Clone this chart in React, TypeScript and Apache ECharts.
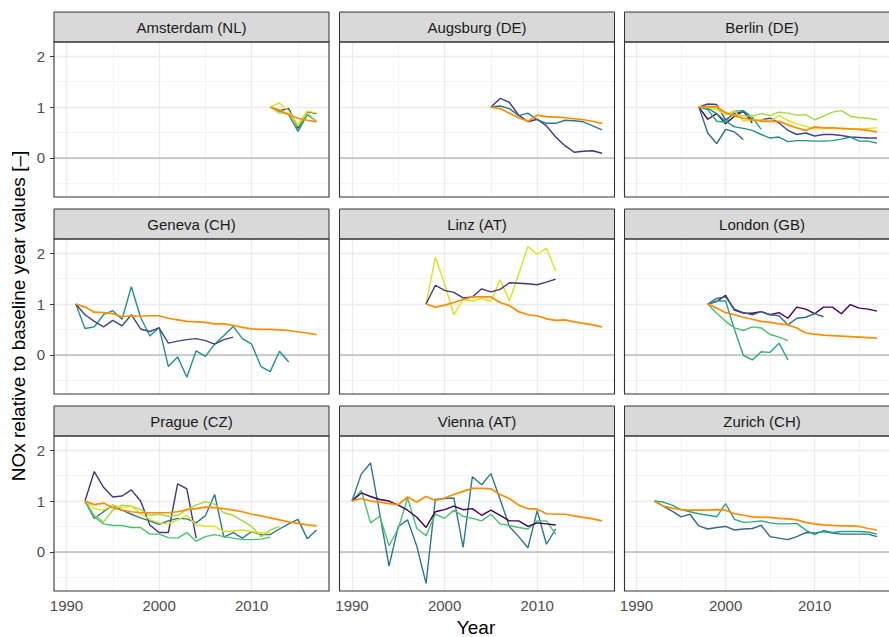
import React, { useEffect, useRef } from "react";
import * as echarts from "echarts";

// ---------- labels & ticks ----------
const cityNames = [
  "Amsterdam (NL)", "Augsburg (DE)", "Berlin (DE)",
  "Geneva (CH)", "Linz (AT)", "London (GB)",
  "Prague (CZ)", "Vienna (AT)", "Zurich (CH)",
];
const yTicks = [0, 1, 2];
const yMinorLines = [-0.5, 0.5, 1.5];
const xTicks = [1990, 2000, 2010];
const xMinorLines = [1995, 2005, 2015];
const yRange = [-0.77, 2.28];
const xRange = [1988.65, 2018.35];
const yTitle = "NOx relative to baseline year values [–]";
const xTitle = "Year";

// ---------- data (values relative to baseline year) ----------
// Amsterdam, from 2012
const amsIndigo = [1.0, 0.93, 0.97, 0.58, 0.91, 0.87];
const amsTeal = [1.0, 0.92, 0.85, 0.52, 0.85, 0.72];
const amsLime = [1.0, 0.88, 0.88, 0.62, 0.88, 0.72];
const amsYellow = [1.0, 1.08, 0.92, 0.66, 0.92, 0.88];
const amsOrange = [1.0, 0.94, 0.85, 0.78, 0.74, 0.71];
// Augsburg, from 2005
const augIndigo = [1.0, 1.17, 1.09, 0.84, 0.71, 0.76, 0.63, 0.41, 0.24, 0.11, 0.13, 0.14, 0.09];
const augTeal = [1.0, 1.02, 0.97, 0.83, 0.88, 0.75, 0.68, 0.68, 0.74, 0.73, 0.71, 0.63, 0.55];
const augOrange = [1.0, 0.97, 0.88, 0.79, 0.72, 0.84, 0.81, 0.8, 0.79, 0.77, 0.75, 0.72, 0.68];
// Berlin, from 1997
const berPurple = [1.0, 0.76, 0.87, 0.67, 0.82, 0.92, 0.69];
const berSlate = [1.0, 1.06, 1.05, 0.75, 0.87, 0.91, 0.75, 0.75, 0.78, 0.69, 0.54, 0.46, 0.49, 0.43, 0.46, 0.46, 0.44, 0.41, 0.4, 0.39, 0.39];
const berBlue = [1.0, 0.49, 0.28, 0.56, 0.51, 0.36];
const berTeal = [1.0, 0.98, 0.87, 0.72, 0.61, 0.58, 0.54, 0.46, 0.39, 0.41, 0.32, 0.34, 0.34, 0.33, 0.33, 0.34, 0.37, 0.41, 0.33, 0.33, 0.29];
const berSea = [1.0, 0.95, 0.72, 0.7, 0.92, 0.93, 0.8, 0.56];
const berLime = [1.0, 1.0, 0.98, 0.9, 0.85, 0.83, 0.82, 0.87, 0.83, 0.9, 0.88, 0.84, 0.85, 0.75, 0.82, 0.9, 0.93, 0.82, 0.79, 0.78, 0.75];
const berYellow = [1.0, 1.0, 0.95, 0.85, 0.93, 0.72, 0.75, 0.75, 0.72, 0.83, 0.74, 0.67, 0.62, 0.57, 0.57, 0.58, 0.57, 0.56, 0.57, 0.58, 0.59];
const berOrange = [1.0, 1.01, 1.01, 0.88, 0.83, 0.78, 0.75, 0.72, 0.72, 0.72, 0.65, 0.59, 0.54, 0.61, 0.59, 0.59, 0.58, 0.57, 0.56, 0.54, 0.51];
// Geneva, from 1991
const genTeal = [1.0, 0.52, 0.55, 0.79, 0.87, 0.7, 1.34, 0.74, 0.37, 0.54, -0.23, -0.04, -0.44, 0.08, -0.03, 0.21, 0.38, 0.56, 0.32, 0.21, -0.23, -0.33, 0.07, -0.14];
const genIndigo = [1.0, 0.79, 0.66, 0.55, 0.68, 0.57, 0.79, 0.51, 0.46, 0.53, 0.23, 0.27, 0.3, 0.32, 0.28, 0.21, 0.3, 0.35];
const genOrange = [1.0, 0.94, 0.84, 0.83, 0.81, 0.75, 0.77, 0.76, 0.77, 0.77, 0.72, 0.69, 0.66, 0.65, 0.64, 0.61, 0.61, 0.58, 0.54, 0.51, 0.5, 0.5, 0.49, 0.48, 0.45, 0.43, 0.4];
// Linz, from 1998
const linYellow = [1.0, 1.92, 1.4, 0.79, 1.09, 1.06, 1.11, 1.05, 1.48, 1.06, 1.59, 2.13, 1.98, 2.1, 1.65];
const linIndigo = [1.0, 1.37, 1.27, 1.23, 1.12, 1.14, 1.3, 1.24, 1.29, 1.42, 1.41, 1.4, 1.38, 1.43, 1.49];
const linOrange = [1.0, 0.94, 0.98, 1.03, 1.09, 1.14, 1.14, 1.14, 1.03, 0.97, 0.85, 0.79, 0.77, 0.71, 0.68, 0.69, 0.65, 0.62, 0.59, 0.55];
// London, from 1998
const lonPurple = [1.0, 1.05, 1.17, 0.88, 0.82, 0.82, 0.85, 0.79, 0.83, 0.72, 0.94, 0.9, 0.81, 0.94, 0.94, 0.81, 0.99, 0.92, 0.9, 0.86];
const lonBlue = [1.0, 1.11, 1.14, 0.9, 0.83, 0.79, 0.85, 0.79, 0.77, 0.59, 0.72, 0.74, 0.81, 0.75];
const lonSea = [1.0, 1.06, 1.06, 0.5, -0.01, -0.1, 0.06, 0.05, 0.23, -0.1];
const lonGreen = [1.0, 0.82, 0.66, 0.53, 0.48, 0.55, 0.53, 0.4, 0.35, 0.28];
const lonOrange = [1.0, 0.92, 0.83, 0.79, 0.74, 0.7, 0.66, 0.64, 0.61, 0.59, 0.53, 0.43, 0.41, 0.39, 0.38, 0.37, 0.36, 0.35, 0.34, 0.33];
// Prague, from 1992
const praIndigo = [1.0, 1.58, 1.27, 1.08, 1.1, 1.22, 1.0, 0.53, 0.38, 0.38, 1.34, 1.24, 0.27];
const praTeal = [1.0, 0.66, 0.79, 0.92, 0.82, 0.74, 0.67, 0.61, 0.54, 0.61, 0.66, 0.65, 0.57, 0.71, 1.13, 0.29, 0.38, 0.27, 0.4, 0.34, 0.34, 0.45, 0.55, 0.64, 0.26, 0.43];
const praLime = [1.0, 0.72, 0.59, 0.82, 0.92, 0.9, 0.83, 0.72, 0.74, 0.7, 0.72, 0.83, 0.92, 0.99, 0.94, 0.77, 0.72, 0.61, 0.5, 0.3, 0.43, 0.5];
const praYellow = [1.0, 0.85, 0.82, 0.92, 0.87, 0.9, 0.75, 0.64, 0.57, 0.55, 0.63, 0.72, 0.53, 0.51, 0.5, 0.4, 0.41, 0.43, 0.4, 0.37, 0.38];
const praGreen = [1.0, 0.69, 0.55, 0.52, 0.52, 0.48, 0.48, 0.35, 0.35, 0.28, 0.27, 0.38, 0.21, 0.3, 0.34, 0.3, 0.27, 0.24, 0.24, 0.25, 0.29];
const praOrange = [1.0, 0.93, 0.96, 0.87, 0.82, 0.79, 0.77, 0.77, 0.77, 0.77, 0.79, 0.83, 0.85, 0.88, 0.87, 0.85, 0.82, 0.79, 0.74, 0.71, 0.67, 0.63, 0.59, 0.56, 0.53, 0.51];
// Vienna, from 1990
const vieTeal = [1.0, 1.53, 1.75, 0.75, -0.28, 0.5, 0.63, 0.11, -0.62, 1.03, 1.05, 1.06, 0.09, 1.48, 1.32, 1.54, 1.03, 0.5, 0.3, 0.08, 0.81, 0.15, 0.45];
const vieGreen = [1.0, 1.21, 0.57, 0.7, 0.12, 0.46, 1.06, 0.46, 0.32, 0.74, 0.66, 0.82, 0.7, 0.66, 0.61, 0.74, 0.55, 0.52, 0.48, 0.45, 0.61, 0.61, 0.35];
const viePurple = [1.0, 1.16, 1.09, 1.03, 1.0, 0.92, 0.82, 0.68, 0.48, 0.79, 0.83, 0.9, 0.83, 0.85, 0.72, 0.82, 0.72, 0.61, 0.61, 0.5, 0.57, 0.55, 0.53];
const vieOrange = [1.0, 1.05, 1.0, 0.98, 0.95, 0.93, 1.08, 0.98, 1.09, 1.01, 1.06, 1.13, 1.19, 1.25, 1.25, 1.24, 1.13, 1.05, 0.92, 0.85, 0.84, 0.75, 0.74, 0.74, 0.71, 0.68, 0.65, 0.61];
// Zurich, from 1992
const zurBlue = [1.0, 0.9, 0.8, 0.69, 0.74, 0.51, 0.45, 0.48, 0.5, 0.43, 0.45, 0.46, 0.52, 0.3, 0.27, 0.24, 0.3, 0.38, 0.37, 0.4, 0.37, 0.35, 0.35, 0.35, 0.35, 0.3];
const zurGreen = [1.0, 0.98, 0.92, 0.83, 0.79, 0.75, 0.72, 0.69, 0.95, 0.64, 0.58, 0.59, 0.61, 0.57, 0.55, 0.55, 0.56, 0.43, 0.34, 0.42, 0.38, 0.4, 0.4, 0.4, 0.39, 0.35];
const zurOrange = [1.0, 0.9, 0.86, 0.83, 0.82, 0.82, 0.82, 0.83, 0.82, 0.75, 0.72, 0.69, 0.68, 0.68, 0.66, 0.65, 0.63, 0.58, 0.55, 0.53, 0.52, 0.51, 0.51, 0.5, 0.46, 0.43];

type LineDef = { panel: number; start: number; values: number[]; tone: string };
const lineDefs: LineDef[] = [
  { panel: 0, start: 2012, values: amsIndigo, tone: "indigo" },
  { panel: 0, start: 2012, values: amsTeal, tone: "teal" },
  { panel: 0, start: 2012, values: amsLime, tone: "lime" },
  { panel: 0, start: 2012, values: amsYellow, tone: "yellow" },
  { panel: 0, start: 2012, values: amsOrange, tone: "orange" },
  { panel: 1, start: 2005, values: augIndigo, tone: "indigo" },
  { panel: 1, start: 2005, values: augTeal, tone: "petrol" },
  { panel: 1, start: 2005, values: augOrange, tone: "orange" },
  { panel: 2, start: 1997, values: berPurple, tone: "purple" },
  { panel: 2, start: 1997, values: berSlate, tone: "slate" },
  { panel: 2, start: 1997, values: berBlue, tone: "blue" },
  { panel: 2, start: 1997, values: berTeal, tone: "teal" },
  { panel: 2, start: 1997, values: berSea, tone: "sea" },
  { panel: 2, start: 1997, values: berLime, tone: "lime" },
  { panel: 2, start: 1997, values: berYellow, tone: "yellow" },
  { panel: 2, start: 1997, values: berOrange, tone: "orange" },
  { panel: 3, start: 1991, values: genTeal, tone: "teal" },
  { panel: 3, start: 1991, values: genIndigo, tone: "slate" },
  { panel: 3, start: 1991, values: genOrange, tone: "orange" },
  { panel: 4, start: 1998, values: linYellow, tone: "yellow" },
  { panel: 4, start: 1998, values: linIndigo, tone: "indigo" },
  { panel: 4, start: 1998, values: linOrange, tone: "orange" },
  { panel: 5, start: 1998, values: lonPurple, tone: "purple" },
  { panel: 5, start: 1998, values: lonBlue, tone: "blue" },
  { panel: 5, start: 1998, values: lonSea, tone: "sea" },
  { panel: 5, start: 1998, values: lonGreen, tone: "green" },
  { panel: 5, start: 1998, values: lonOrange, tone: "orange" },
  { panel: 6, start: 1992, values: praIndigo, tone: "indigo" },
  { panel: 6, start: 1992, values: praTeal, tone: "petrol" },
  { panel: 6, start: 1992, values: praLime, tone: "lime" },
  { panel: 6, start: 1992, values: praYellow, tone: "yellow" },
  { panel: 6, start: 1992, values: praGreen, tone: "green" },
  { panel: 6, start: 1992, values: praOrange, tone: "orange" },
  { panel: 7, start: 1990, values: vieTeal, tone: "petrol" },
  { panel: 7, start: 1990, values: vieGreen, tone: "green" },
  { panel: 7, start: 1990, values: viePurple, tone: "purple" },
  { panel: 7, start: 1990, values: vieOrange, tone: "orange" },
  { panel: 8, start: 1992, values: zurBlue, tone: "blue" },
  { panel: 8, start: 1992, values: zurGreen, tone: "sea" },
  { panel: 8, start: 1992, values: zurOrange, tone: "orange" },
];

// ---------- styles & layout ----------
const toneColors: Record<string, string> = {
  purple: "#440154",
  indigo: "#46337E",
  slate: "#414487",
  blue: "#31688E",
  petrol: "#2A788E",
  teal: "#21908C",
  sea: "#22A884",
  green: "#4AC16D",
  lime: "#9FDA3A",
  yellow: "#DCE319",
  orange: "#FF8C00",
};
const FONT = "'Liberation Sans', Arial, Helvetica, sans-serif";
const COL_LEFT = [54, 339.5, 624.5];
const ROW_TOP = [42, 239, 436];
const PW = 275;
const PH = 155;
const STRIP_H = 30;

export default function App() {
  const ref = useRef<HTMLDivElement>(null);
  useEffect(() => {
    if (!ref.current) return;
    const chart = echarts.init(ref.current, null, { renderer: "svg" });
    const grids: any[] = [];
    const xAxes: any[] = [];
    const yAxes: any[] = [];
    const series: any[] = [];
    const graphics: any[] = [];

    for (let i = 0; i < 9; i++) {
      const col = i % 3;
      const row = Math.floor(i / 3);
      const left = COL_LEFT[col];
      const top = ROW_TOP[row];
      grids.push({ left, top, width: PW, height: PH, containLabel: false });
      xAxes.push({
        type: "value",
        gridIndex: i,
        min: xRange[0],
        max: xRange[1],
        axisLine: { show: false },
        splitLine: { show: false },
        axisTick: {
          show: row === 2,
          customValues: xTicks,
          length: 4,
          lineStyle: { color: "#333333", width: 1 },
        },
        axisLabel: {
          show: row === 2,
          customValues: xTicks,
          formatter: (v: number) => String(Math.round(v)),
          color: "#4D4D4D",
          fontSize: 15,
          fontFamily: FONT,
          fontWeight: "normal",
          margin: 7,
        },
      });
      yAxes.push({
        type: "value",
        gridIndex: i,
        min: yRange[0],
        max: yRange[1],
        axisLine: { show: false },
        splitLine: { show: false },
        axisTick: {
          show: col === 0,
          customValues: yTicks,
          length: 4,
          lineStyle: { color: "#333333", width: 1 },
        },
        axisLabel: {
          show: col === 0,
          customValues: yTicks,
          formatter: (v: number) => String(Math.round(v)),
          color: "#4D4D4D",
          fontSize: 15,
          fontFamily: FONT,
          fontWeight: "normal",
          margin: 9,
        },
      });
      const minorStyle = { color: "#EFEFEF", width: 0.7, type: "solid" };
      const majorStyle = { color: "#EBEBEB", width: 1.3, type: "solid" };
      series.push({
        type: "line",
        xAxisIndex: i,
        yAxisIndex: i,
        data: [[2000, 0]],
        showSymbol: false,
        symbol: "none",
        silent: true,
        z: 1,
        lineStyle: { opacity: 0 },
        markLine: {
          silent: true,
          z: 1,
          symbol: ["none", "none"],
          label: { show: false },
          emphasis: { disabled: true },
          animation: false,
          data: [
            ...yMinorLines.map((v) => ({ yAxis: v, lineStyle: minorStyle })),
            ...xMinorLines.map((v) => ({ xAxis: v, lineStyle: minorStyle })),
            ...yTicks.map((v) => ({ yAxis: v, lineStyle: majorStyle })),
            ...xTicks.map((v) => ({ xAxis: v, lineStyle: majorStyle })),
            { yAxis: 0, lineStyle: { color: "#BEBEBE", width: 1.5, type: "solid" } },
          ],
        },
      });
      graphics.push({
        type: "rect",
        z: 100,
        shape: { x: left, y: top - STRIP_H, width: PW, height: STRIP_H },
        style: { fill: "#D9D9D9", stroke: "#333333", lineWidth: 1 },
      });
      graphics.push({
        type: "text",
        z: 101,
        x: left + PW / 2,
        y: top - STRIP_H / 2,
        style: {
          text: cityNames[i],
          fill: "#1A1A1A",
          fontSize: 15,
          fontWeight: "normal",
          fontFamily: FONT,
          align: "center",
          verticalAlign: "middle",
        },
      });
      graphics.push({
        type: "rect",
        z: 100,
        shape: { x: left, y: top, width: PW, height: PH },
        style: { fill: "none", stroke: "#333333", lineWidth: 1.1 },
      });
    }

    lineDefs
      .slice()
      .sort((a, b) => (a.tone === "orange" ? 1 : 0) - (b.tone === "orange" ? 1 : 0))
      .forEach((d) => {
        series.push({
          type: "line",
          xAxisIndex: d.panel,
          yAxisIndex: d.panel,
          data: d.values.map((v, k) => [d.start + k, v]),
          showSymbol: false,
          symbol: "none",
          silent: true,
          z: d.tone === "orange" ? 4 : 3,
          lineStyle: { color: toneColors[d.tone], width: d.tone === "orange" ? 1.7 : 1.4 },
        });
      });

    graphics.push({
      type: "text",
      z: 101,
      x: 18,
      y: 316,
      rotation: Math.PI / 2,
      style: {
        text: yTitle,
        fill: "#000000",
        fontSize: 19,
        fontWeight: "normal",
        fontFamily: FONT,
        align: "center",
        verticalAlign: "middle",
      },
    });
    graphics.push({
      type: "text",
      z: 101,
      x: 476,
      y: 627,
      style: {
        text: xTitle,
        fill: "#000000",
        fontSize: 19,
        fontWeight: "normal",
        fontFamily: FONT,
        align: "center",
        verticalAlign: "middle",
      },
    });

    chart.setOption({
      animation: false,
      backgroundColor: "#FFFFFF",
      grid: grids,
      xAxis: xAxes,
      yAxis: yAxes,
      series,
      graphic: graphics,
    });
    return () => chart.dispose();
  }, []);
  return (
    <div
      ref={ref}
      style={{ position: "fixed", left: 0, top: 0, width: 889, height: 637, background: "#fff" }}
    />
  );
}
